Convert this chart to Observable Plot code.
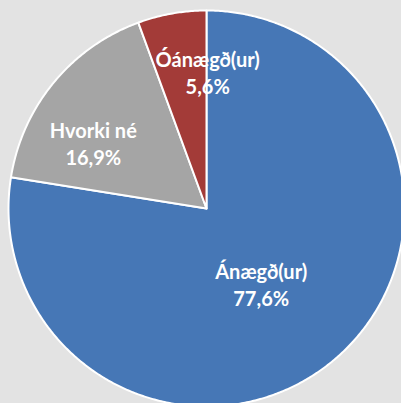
<!DOCTYPE html>
<html>
<head>
<meta charset="utf-8">
<script src="https://cdn.jsdelivr.net/npm/d3@7"></script>
<script src="https://cdn.jsdelivr.net/npm/@observablehq/plot@0.6"></script>
<style>
  html, body { margin: 0; padding: 0; background: #e3e3e3; overflow: hidden; }
  #chart { width: 401px; height: 403px; }
</style>
</head>
<body>
<div id="chart"></div>
<script>
// Data
const categories = ["Ánægð(ur)", "Hvorki né", "Óánægð(ur)"];
const values = [77.6, 16.9, 5.6];
const valueLabels = ["77,6%", "16,9%", "5,6%"];
const colors = ["#4677b6", "#a5a5a5", "#a33b38"];
// Label anchor (angle in degrees clockwise from top, fraction of radius) — layout
const labelAngle = [144, 300, 0.5];
const labelRadius = [0.47, 0.66, 0.69];

const pie = d3.pie().sort(null).value(d => d)(values);

// Build slice polygons in unit-circle data space
const slicePts = [];
pie.forEach((p, i) => {
  const a0 = p.startAngle, a1 = p.endAngle;
  slicePts.push({cat: categories[i], x: 0, y: 0});
  const n = Math.max(2, Math.ceil((a1 - a0) / (Math.PI / 360)));
  for (let k = 0; k <= n; k++) {
    const a = a0 + (a1 - a0) * k / n;
    slicePts.push({cat: categories[i], x: Math.sin(a), y: Math.cos(a)});
  }
});

const labels = categories.map((c, i) => {
  const a = labelAngle[i] * Math.PI / 180;
  return {cat: c, text: c + "\n" + valueLabels[i], x: labelRadius[i] * Math.sin(a), y: labelRadius[i] * Math.cos(a)};
});

const cx = 206, cy = 208, R = 198;
const chart = Plot.plot({
  width: 401,
  height: 403,
  margin: 0,
  style: {background: "#e3e3e3", overflow: "hidden"},
  x: {domain: [-1, 1], range: [cx - R, cx + R], axis: null},
  y: {domain: [-1, 1], range: [cy + R, cy - R], axis: null},
  color: {domain: categories, range: colors},
  marks: [
    Plot.line(slicePts, {x: "x", y: "y", z: "cat", fill: "cat", stroke: "white", strokeWidth: 2, curve: "linear-closed", strokeLinejoin: "round"}),
    Plot.text(labels, {x: "x", y: "y", text: "text", fill: "white", fontSize: 20, fontWeight: "bold", fontFamily: "Lato", lineHeight: 1.35})
  ]
});
document.getElementById("chart").appendChild(chart);
</script>
</body>
</html>
